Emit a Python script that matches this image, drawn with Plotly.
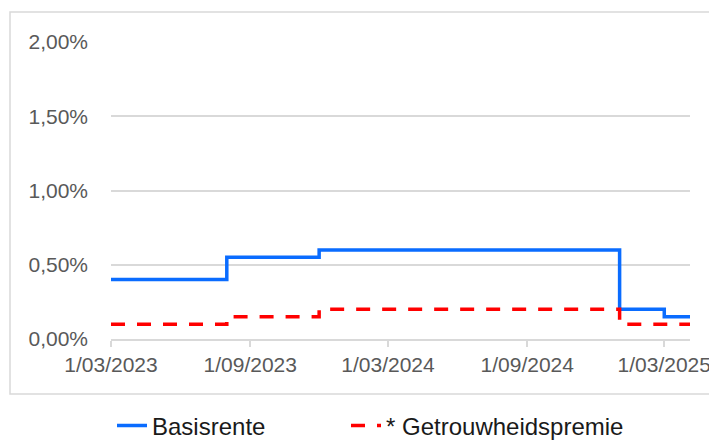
import plotly.graph_objects as go

# Data
basis_dates = ["2023-03-01", "2023-08-01", "2023-12-01", "2025-01-01", "2025-03-01", "2025-04-04"]
basis_values = [0.0040, 0.0055, 0.0060, 0.0020, 0.0015, 0.0015]

premie_dates = ["2023-03-01", "2023-08-01", "2023-12-01", "2025-01-01", "2025-04-04"]
premie_values = [0.0010, 0.0015, 0.0020, 0.0010, 0.0010]

x_tickvals = ["2023-03-01", "2023-09-01", "2024-03-01", "2024-09-01", "2025-03-01"]
x_ticktext = ["1/03/2023", "1/09/2023", "1/03/2024", "1/09/2024", "1/03/2025"]
y_tickvals = [0, 0.005, 0.01, 0.015, 0.02]

# The page body adds an 8px margin; work in page pixels and subtract it.
OFF = 8
W, H = 717 - OFF, 443 - OFF
PLOT_L, PLOT_R, PLOT_T, PLOT_B = 111, 690, 42, 339  # page pixels
L = PLOT_L - OFF
T = PLOT_T - OFF
R = W - (PLOT_R - OFF)
B = H - (PLOT_B - OFF)
pw, ph = W - L - R, H - T - B

def px_x(p):
    return (p - OFF - L) / pw

def px_y(p):
    return (H - B - (p - OFF)) / ph

fig = go.Figure()
fig.add_trace(go.Scatter(
    x=basis_dates, y=basis_values, name="Basisrente", mode="lines",
    line=dict(color="#0A6CFF", width=3.5, shape="hv"), legend="legend",
))
fig.add_trace(go.Scatter(
    x=premie_dates, y=premie_values, name="* Getrouwheidspremie", mode="lines",
    line=dict(color="#FF0000", width=3.5, shape="hv", dash="14px,12px"), legend="legend2",
))

legend_common = dict(
    orientation="h", xref="container", yref="container",
    xanchor="left", y=(H - (426 - OFF)) / H, yanchor="middle",
    font=dict(size=24, color="#1a1a1a"), itemwidth=30,
    bgcolor="rgba(0,0,0,0)",
)

fig.update_layout(
    width=W, height=H,
    margin=dict(l=L, r=R, t=T, b=B, autoexpand=False),
    paper_bgcolor="white", plot_bgcolor="white",
    separators=",.",
    font=dict(family="Liberation Sans, Arial, sans-serif", color="#595959", size=21),
    showlegend=True,
    legend=dict(x=(112 - OFF) / W, **legend_common),
    legend2=dict(x=(346 - OFF) / W, **legend_common),
    xaxis=dict(
        type="date", range=["2023-03-01", "2025-04-04"], automargin=False,
        tickmode="array", tickvals=x_tickvals, ticktext=x_ticktext,
        showgrid=False, zeroline=False,
        showline=True, linecolor="#d9d9d9", linewidth=1.5,
        ticks="outside", ticklen=6, tickcolor="#d9d9d9", tickwidth=1.5,
        ticklabelstandoff=0,
        tickfont=dict(size=21, color="#595959"),
    ),
    yaxis=dict(
        range=[0, 0.02], automargin=False,
        tickmode="array", tickvals=y_tickvals, tickformat=".2%",
        showgrid=True, gridcolor="#d9d9d9", gridwidth=1.5,
        zeroline=False, showline=False,
        ticklabelstandoff=22,
        tickfont=dict(size=21, color="#595959"),
    ),
    shapes=[dict(
        type="rect", xref="paper", yref="paper",
        x0=px_x(10), x1=px_x(740), y0=px_y(394), y1=px_y(12),
        line=dict(color="#d9d9d9", width=1.5), fillcolor="rgba(0,0,0,0)", layer="below",
    )],
)

fig.write_html("out.html")
